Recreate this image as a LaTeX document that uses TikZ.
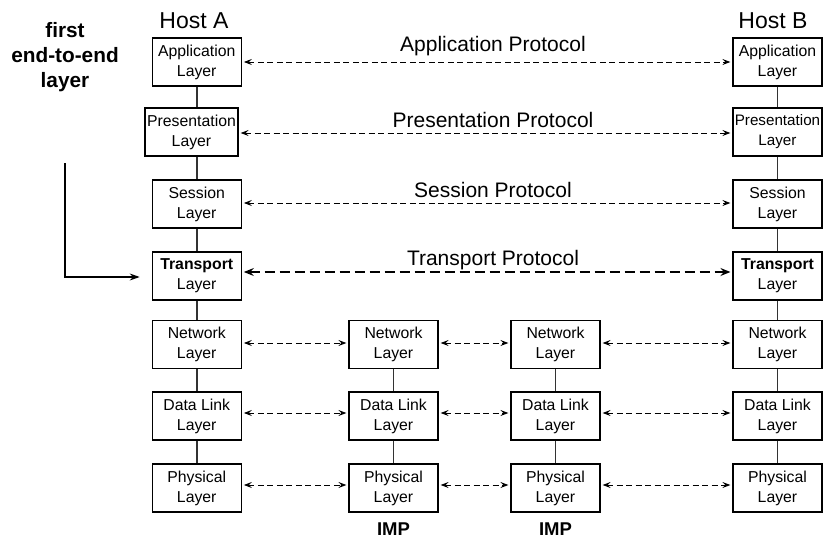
\documentclass[tikz,border=0pt]{standalone}
\usepackage{fontspec}
\setmainfont{Liberation Sans}
\usetikzlibrary{arrows.meta}
\begin{document}
\begin{tikzpicture}[x=1pt,y=-1pt,
  layerbox/.style={draw=black,line width=1.2pt,fill=white,minimum width=89pt,minimum height=48pt,
    inner sep=0pt,align=center,font=\fontsize{15.8pt}{20pt}\selectfont},
  vlink/.style={draw=black!80,line width=1.8pt},
  proto/.style={dashed,dash pattern=on 6pt off 3.5pt,line width=0.9pt,shorten <=2pt,shorten >=2pt,
    {Stealth[length=8pt,width=6pt,inset=3pt]}-{Stealth[length=8pt,width=6pt,inset=3pt]}},
  protothick/.style={dash pattern=on 10pt off 5pt,line width=2.6pt,shorten <=2pt,shorten >=2pt,
    {Stealth[length=10pt,width=8pt,inset=3.5pt]}-{Stealth[length=10pt,width=8pt,inset=3.5pt]}},
  protolabel/.style={anchor=base,inner sep=0pt,font=\fontsize{21pt}{25pt}\selectfont},
  hostlabel/.style={anchor=base,inner sep=0pt,font=\fontsize{23pt}{27pt}\selectfont},
  implabel/.style={anchor=base,inner sep=0pt,font=\fontsize{18.5pt}{22pt}\selectfont\bfseries}]
\useasboundingbox (0,0) rectangle (823,538);

% Host A column
\node[layerbox] (a1) at (196.75,62) {Application\\Layer};
\node[layerbox,minimum width=93pt] (a2) at (191.5,132) {Presentation\\Layer};
\node[layerbox] (a3) at (196.75,204) {Session\\Layer};
\node[layerbox] (a4) at (196.75,276) {\textbf{Transport}\\Layer};
\node[layerbox] (a5) at (196.75,344.5) {Network\\Layer};
\node[layerbox] (a6) at (196.75,416) {Data Link\\Layer};
\node[layerbox] (a7) at (196.75,488) {Physical\\Layer};

% IMP 1
\node[layerbox] (i5) at (393.5,344.5) {Network\\Layer};
\node[layerbox] (i6) at (393.5,416) {Data Link\\Layer};
\node[layerbox] (i7) at (393.5,488) {Physical\\Layer};

% IMP 2
\node[layerbox] (j5) at (555.5,344.5) {Network\\Layer};
\node[layerbox] (j6) at (555.5,416) {Data Link\\Layer};
\node[layerbox] (j7) at (555.5,488) {Physical\\Layer};

% Host B column
\node[layerbox] (b1) at (777.5,62) {Application\\Layer};
\node[layerbox,font=\fontsize{15.2pt}{20pt}\selectfont] (b2) at (777.5,132) {Presentation\\Layer};
\node[layerbox] (b3) at (777.5,204) {Session\\Layer};
\node[layerbox] (b4) at (777.5,276) {\textbf{Transport}\\Layer};
\node[layerbox] (b5) at (777.5,344.5) {Network\\Layer};
\node[layerbox] (b6) at (777.5,416) {Data Link\\Layer};
\node[layerbox] (b7) at (777.5,488) {Physical\\Layer};

% vertical links
\draw[vlink] (a1.south) -- (a1.south |- a2.north);
\draw[vlink] (a1.south |- a2.south) -- (a3.north);
\draw[vlink] (a3.south) -- (a4.north);
\draw[vlink] (a4.south) -- (a5.north);
\draw[vlink] (a5.south) -- (a6.north);
\draw[vlink] (a6.south) -- (a7.north);
\draw[vlink] (i5.south) -- (i6.north);
\draw[vlink] (i6.south) -- (i7.north);
\draw[vlink] (j5.south) -- (j6.north);
\draw[vlink] (j6.south) -- (j7.north);
\draw[vlink] (b1.south) -- (b2.north);
\draw[vlink] (b2.south) -- (b3.north);
\draw[vlink] (b3.south) -- (b4.north);
\draw[vlink] (b4.south) -- (b5.north);
\draw[vlink] (b5.south) -- (b6.north);
\draw[vlink] (b6.south) -- (b7.north);

% protocol arrows
\draw[proto] (a1.east) -- (b1.west);
\draw[proto] ([yshift=-1pt]a2.east) -- ([yshift=-1pt]b2.west);
\draw[proto] ([yshift=1pt]a3.east) -- ([yshift=1pt]b3.west);
\draw[protothick] ([yshift=4pt]a4.east) -- ([yshift=4pt]b4.west);
\foreach \r/\s in {5/1.5,6/3,7/3}{
  \draw[proto] ([yshift=\s pt]a\r.east) -- ([yshift=\s pt]i\r.west);
  \draw[proto] ([yshift=\s pt]i\r.east) -- ([yshift=\s pt]j\r.west);
  \draw[proto] ([yshift=\s pt]j\r.east) -- ([yshift=\s pt]b\r.west);
}

% labels
\node[hostlabel] (ha) at (194,28) {Host A};
\node[hostlabel] (hb) at (773,28) {Host B};
\node[protolabel] (pa) at (493,52) {Application Protocol};
\node[protolabel] (pp) at (493,127) {Presentation Protocol};
\node[protolabel] (ps) at (493,197) {Session Protocol};
\node[protolabel] (pt) at (493,265) {Transport Protocol};
\node[implabel] (imp1) at (393.5,535) {IMP};
\node[implabel] (imp2) at (555.5,535) {IMP};

% first end-to-end layer
\node[anchor=base,inner sep=0pt,align=center,font=\fontsize{20.8pt}{25pt}\selectfont\bfseries] (fe) at (65,87) {first\\end-to-end\\layer};
\coordinate (c1) at (65,163);
\draw[line width=1.2pt,-{Stealth[length=10pt,width=7pt,inset=3.5pt]}] (c1) |- ([xshift=-12pt,yshift=-1pt]a4.west);
\end{tikzpicture}
\end{document}
